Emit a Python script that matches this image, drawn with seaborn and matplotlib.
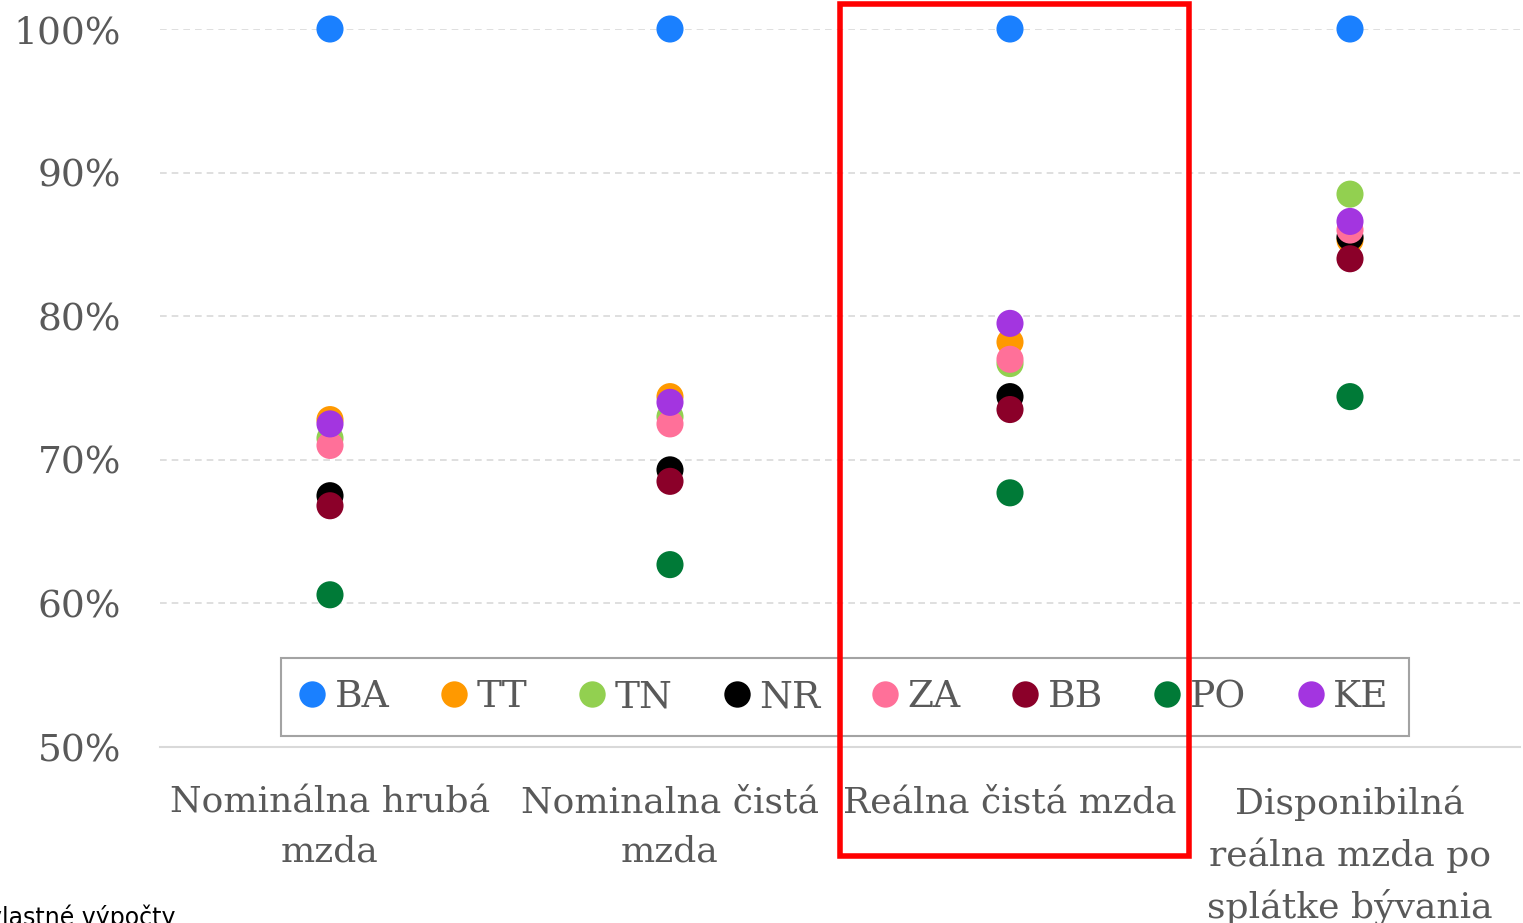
import numpy as np
import pandas as pd
import matplotlib
matplotlib.use("Agg")
import matplotlib.pyplot as plt
import seaborn as sns
from matplotlib.patches import Rectangle
from matplotlib.lines import Line2D

# --- Data (share of Bratislava level, %) ---
categories = ["Nominálna hrubá\nmzda", "Nominalna čistá\nmzda",
              "Reálna čistá mzda", "Disponibilná\nreálna mzda po\nsplátke bývania"]
regions = ["BA", "TT", "TN", "NR", "ZA", "BB", "PO", "KE"]

ba = [100.0, 100.0, 100.0, 100.0]
tt = [72.8, 74.4, 78.2, 85.3]
tn = [71.5, 73.0, 76.7, 88.5]
nr = [67.5, 69.3, 74.4, 85.5]
za = [71.0, 72.5, 77.0, 86.0]
bb = [66.8, 68.5, 73.5, 84.0]
po = [60.6, 62.7, 67.7, 74.4]
ke = [72.5, 74.0, 79.5, 86.6]

colors = ["#1a80ff", "#ff9900", "#92d050", "#000000",
          "#ff7099", "#8b0029", "#007a37", "#a335e0"]

series = [ba, tt, tn, nr, za, bb, po, ke]
rows = []
for reg, vals in zip(regions, series):
    for cat, v in zip(categories, vals):
        rows.append({"region": reg, "category": cat, "value": v / 100})
df = pd.DataFrame(rows)

# --- Plot ---
sns.set_style("white")
plt.rcParams["font.family"] = ["DejaVu Serif"]

fig = plt.figure(figsize=(15.23, 9.23), dpi=100)
ax = fig.add_axes([160 / 1523, 1 - 747 / 923, 1360 / 1523, 718 / 923])

sns.scatterplot(data=df, x="category", y="value", hue="region",
                hue_order=regions, palette=colors, s=380,
                edgecolor="none", legend=False, ax=ax, clip_on=False, zorder=3)

ax.set_xlim(-0.5, 3.5)
ax.set_ylim(0.5, 1.0)
ax.set_yticks(np.arange(0.5, 1.01, 0.1))
ax.set_yticklabels([f"{int(round(t * 100))}%" for t in np.arange(0.5, 1.01, 0.1)])
ax.set_xlabel("")
ax.set_ylabel("")
ax.tick_params(axis="x", labelsize=26, labelcolor="#595959", length=0, pad=28)
ax.tick_params(axis="y", labelsize=27, labelcolor="#595959", length=0, pad=28)
for lab in ax.get_xticklabels():
    lab.set_linespacing(1.55)

for y in [0.6, 0.7, 0.8, 0.9, 1.0]:
    ax.axhline(y, color="#d9d9d9", linestyle=(0, (4, 3)), linewidth=1.2, zorder=1)
for s in ["top", "right", "left"]:
    ax.spines[s].set_visible(False)
ax.spines["bottom"].set_color("#d9d9d9")
ax.spines["bottom"].set_linewidth(1.5)

handles = [Line2D([], [], marker="o", linestyle="none", markersize=19,
                  markerfacecolor=c, markeredgecolor="none") for c in colors]
leg = fig.legend(handles, regions, ncol=8, loc="center",
                 bbox_to_anchor=(845 / 1523, 1 - 697 / 923),
                 fontsize=27, frameon=True, fancybox=False,
                 handlelength=0.6, handletextpad=0.3, columnspacing=1.42,
                 borderpad=0.55)
leg.get_frame().set_edgecolor("#8c8c8c")
leg.get_frame().set_linewidth(1.5)
for t in leg.get_texts():
    t.set_color("#595959")

# highlight box around the third category
fig.add_artist(Rectangle((840 / 1523, 1 - 856 / 923), 349 / 1523, 852 / 923,
                         transform=fig.transFigure, fill=False,
                         edgecolor="#ff0000", linewidth=4, zorder=10))

fig.text(-12 / 1523, 1 - 905 / 923, "vlastné výpočty", family="DejaVu Sans",
         fontsize=17, va="top", ha="left", color="#000000")

fig.savefig("out.png", dpi=100)
